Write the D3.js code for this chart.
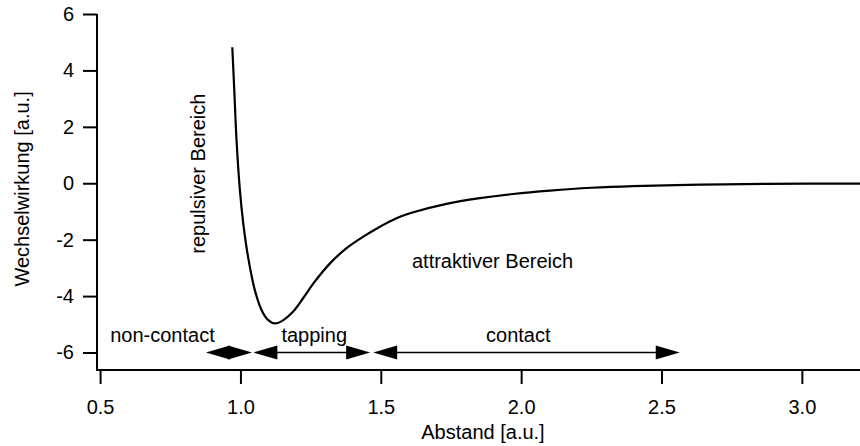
<!DOCTYPE html>
<html>
<head>
<meta charset="utf-8">
<script src="https://cdn.jsdelivr.net/npm/d3@7"></script>
<style>
  html, body { margin: 0; padding: 0; background: #fff; }
  svg { display: block; }
  text { font-family: "Liberation Sans", Arial, Helvetica, sans-serif; fill: #000; }
</style>
</head>
<body>
<svg id="chart" width="860" height="446"></svg>
<script>
// ---- data ----
const distance = [0.971, 0.978, 0.986, 0.998, 1.010, 1.027, 1.051, 1.075, 1.099, 1.123,
                  1.153, 1.188, 1.225, 1.260, 1.319, 1.378, 1.438, 1.497, 1.556, 1.616,
                  1.734, 1.853, 1.972, 2.103, 2.25, 2.40, 2.64, 2.87, 3.21];
const interaction = [4.82, 3.31, 1.54, -0.24, -1.42, -2.60, -3.78, -4.49, -4.85, -4.97,
                     -4.85, -4.55, -4.05, -3.55, -2.84, -2.30, -1.89, -1.54, -1.24, -1.03,
                     -0.73, -0.53, -0.38, -0.26, -0.16, -0.10, -0.05, -0.02, -0.01];

const xTicks = [0.5, 1.0, 1.5, 2.0, 2.5, 3.0];
const yTicks = [-6, -4, -2, 0, 2, 4, 6];

const modeNames  = ["non-contact", "tapping", "contact"];
const modeStart  = [0.877, 1.046, 1.473];
const modeEnd    = [1.041, 1.462, 2.565];
const modeLevel  = -6;
const modeLabelX = [0.536, 1.146, 1.875];
const modeLabelY = -5.63;

const regionNames = ["repulsiver Bereich", "attraktiver Bereich"];

// ---- layout ----
const svg = d3.select("#chart");
const x = d3.scaleLinear().domain([0.489, 3.2]).range([97, 858]);
const y = d3.scaleLinear().domain([-6.62, 6]).range([370, 14]);
const FS = 20;

// axes
const xAxis = d3.axisBottom(x).tickValues(xTicks).tickFormat(d3.format(".1f"))
  .tickSizeInner(14).tickSizeOuter(0).tickPadding(16);
const yAxis = d3.axisLeft(y).tickValues(yTicks).tickFormat(d => d)
  .tickSizeInner(14).tickSizeOuter(0).tickPadding(9);

const gx = svg.append("g").attr("transform", `translate(0,${y.range()[0]})`).call(xAxis);
const gy = svg.append("g").attr("transform", `translate(${x.range()[0]},0)`).call(yAxis);

[gx, gy].forEach(g => {
  g.select(".domain").attr("stroke", "#000").attr("stroke-width", 2);
  g.selectAll(".tick line").attr("stroke", "#000").attr("stroke-width", 2);
  g.selectAll(".tick text").attr("font-size", FS).attr("fill", "#000")
    .style("font-family", '"Liberation Sans", Arial, sans-serif');
});
// make the corner join cleanly
gx.select(".domain").attr("d", `M${x.range()[0] - 1},0H${x.range()[1] + 2}`);
gy.select(".domain").attr("d", `M0,${y.range()[1]}V${y.range()[0] + 1}`);

// axis titles
svg.append("text")
  .attr("x", (x(1.5) + x(2.0)) / 2 + 32).attr("y", 439)
  .attr("text-anchor", "middle").attr("font-size", FS)
  .text("Abstand [a.u.]");
svg.append("text")
  .attr("transform", `translate(29,${y(-0.2)}) rotate(-90)`)
  .attr("text-anchor", "middle").attr("font-size", FS)
  .text("Wechselwirkung [a.u.]");

// curve
const line = d3.line().x((d, i) => x(distance[i])).y((d, i) => y(interaction[i]))
  .curve(d3.curveCatmullRom.alpha(0.5));
svg.append("path").datum(distance)
  .attr("d", line).attr("fill", "none").attr("stroke", "#000")
  .attr("stroke-width", 2.2).attr("stroke-linejoin", "round");

// region labels
svg.append("text")
  .attr("transform", `translate(${x(0.874)},${y(0.34)}) rotate(-90)`)
  .attr("text-anchor", "middle").attr("font-size", FS)
  .text(regionNames[0]);
svg.append("text")
  .attr("x", x(1.611)).attr("y", y(-3.0))
  .attr("font-size", FS)
  .text(regionNames[1]);

// mode arrows
const headL = 24, headW = 7;
modeNames.forEach((name, i) => {
  const x0 = x(modeStart[i]), x1 = x(modeEnd[i]), yy = y(modeLevel);
  const g = svg.append("g");
  g.append("line")
    .attr("x1", x0 + headL - 1).attr("x2", x1 - headL + 1)
    .attr("y1", yy).attr("y2", yy)
    .attr("stroke", "#000").attr("stroke-width", 1.6);
  g.append("path")
    .attr("d", `M${x0},${yy}L${x0 + headL},${yy - headW}L${x0 + headL},${yy + headW}Z`)
    .attr("fill", "#000");
  g.append("path")
    .attr("d", `M${x1},${yy}L${x1 - headL},${yy - headW}L${x1 - headL},${yy + headW}Z`)
    .attr("fill", "#000");
  svg.append("text")
    .attr("x", x(modeLabelX[i])).attr("y", y(modeLabelY))
    .attr("font-size", FS)
    .text(name);
});
</script>
</body>
</html>
